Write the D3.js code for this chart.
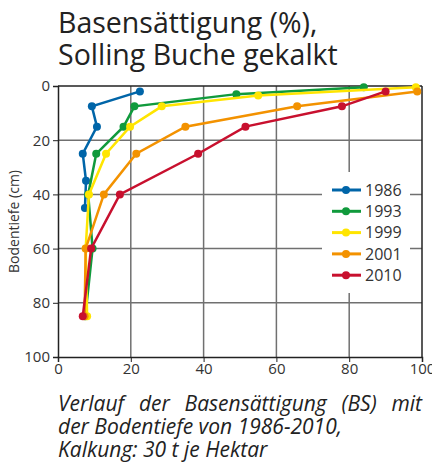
<!DOCTYPE html>
<html>
<head>
<meta charset="utf-8">
<script src="https://cdn.jsdelivr.net/npm/d3@7"></script>
<style>
  body { margin: 0; background: #fff; }
  svg { display: block; font-family: 'Open Sans', sans-serif; }
</style>
</head>
<body>
<div id="chart"></div>
<script>
// Data: Basensättigung (%) per depth (cm)
const years = ['1986', '1993', '1999', '2001', '2010'];
const colors = ['#0065a8', '#109a3c', '#ffe500', '#f39200', '#c8102e'];

const bs1986 = [22.5, 9.3, 10.7, 6.8, 7.7, 7.4];
const depth1986 = [2, 7.5, 15, 25, 35, 45];
const bs1993 = [84, 49, 21, 18, 10.5, 8.3, 9.5, 7.5];
const depth1993 = [0.5, 3, 7.5, 15, 25, 40, 60, 85];
const bs1999 = [98.3, 55, 28.5, 19.8, 13.2, 8.5, 7.6, 8];
const depth1999 = [0.5, 3.5, 7.5, 15, 25, 40, 60, 85];
const bs2001 = [98.7, 65.7, 35, 21.5, 12.6, 7.6, 7.3];
const depth2001 = [2, 7.5, 15, 25, 40, 60, 85];
const bs2010 = [90, 78, 51.5, 38.5, 17, 9.1, 6.8];
const depth2010 = [2, 7.5, 15, 25, 40, 60, 85];

const xTicks = [0, 20, 40, 60, 80, 100];
const yTicks = [0, 20, 40, 60, 80, 100];

const series = [
  [bs1986, depth1986], [bs1993, depth1993], [bs1999, depth1999],
  [bs2001, depth2001], [bs2010, depth2010]
].map((s, i) => ({
  year: years[i], color: colors[i],
  pts: s[0].map((v, j) => ({ bs: v, depth: s[1][j] }))
}));

const width = 432, height = 464;
const m = { left: 58, right: 10, top: 86, bottom: 107 };

const svg = d3.select('#chart').append('svg')
  .attr('width', width).attr('height', height);

const x = d3.scaleLinear().domain([0, 100]).range([m.left, width - m.right]);
const y = d3.scaleLinear().domain([0, 100]).range([m.top, height - m.bottom]);

// Title
svg.append('text')
  .attr('x', 58).attr('y', 33)
  .style('font-size', '28.5px').style('fill', '#222')
  .text('Basensättigung (%),');
svg.append('text')
  .attr('x', 58).attr('y', 65)
  .style('font-size', '28.5px').style('fill', '#222')
  .text('Solling Buche gekalkt');

// Grid
const grid = svg.append('g');
grid.selectAll('.vg').data(xTicks.slice(1, -1)).enter().append('line')
  .attr('x1', d => x(d)).attr('x2', d => x(d))
  .attr('y1', y(0)).attr('y2', y(100))
  .style('stroke', '#707070').style('stroke-width', 1.5);
grid.selectAll('.hg').data(yTicks.slice(1, -1)).enter().append('line')
  .attr('x1', x(0)).attr('x2', x(100))
  .attr('y1', d => y(d)).attr('y2', d => y(d))
  .style('stroke', '#707070').style('stroke-width', 1.5);

// Frame top and right
svg.append('line').attr('x1', x(0)).attr('x2', x(100)).attr('y1', y(0)).attr('y2', y(0))
  .style('stroke', '#222').style('stroke-width', 1.5);
svg.append('line').attr('x1', x(100)).attr('x2', x(100)).attr('y1', y(0)).attr('y2', y(100))
  .style('stroke', '#222').style('stroke-width', 1.5);

// Axes
const yAxis = svg.append('g')
  .attr('transform', 'translate(' + x(0) + ',0)')
  .call(d3.axisLeft(y).tickValues(yTicks).tickSize(5).tickPadding(3));
const xAxis = svg.append('g')
  .attr('transform', 'translate(0,' + y(100) + ')')
  .call(d3.axisBottom(x).tickValues(xTicks).tickSize(5).tickPadding(1));
[xAxis, yAxis].forEach(a => {
  a.select('.domain').style('stroke', '#222').style('stroke-width', 1.5);
  a.selectAll('.tick line').style('stroke', '#222');
  a.selectAll('.tick text').style('font-size', '15px').style('fill', '#333')
    .style('font-family', "'Open Sans', sans-serif");
});

svg.append('text')
  .attr('transform', 'translate(19,' + y(50) + ') rotate(-90)')
  .attr('text-anchor', 'middle')
  .style('font-size', '14px').style('fill', '#333')
  .text('Bodentiefe (cm)');

// Lines
const line = d3.line().x(d => x(d.bs)).y(d => y(d.depth));
const sg = svg.append('g');
series.forEach(s => {
  sg.append('path').datum(s.pts)
    .attr('d', line)
    .style('fill', 'none').style('stroke', s.color).style('stroke-width', 2.5);
  sg.selectAll(null).data(s.pts).enter().append('circle')
    .attr('cx', d => x(d.bs)).attr('cy', d => y(d.depth)).attr('r', 4)
    .style('fill', s.color);
});

// Legend
const lg = svg.append('g');
lg.append('rect').attr('x', 322).attr('y', 172).attr('width', 88).attr('height', 121)
  .style('fill', '#fff');
series.forEach((s, i) => {
  const ly = 190 + i * 21.3;
  lg.append('line').attr('x1', 332).attr('x2', 361).attr('y1', ly).attr('y2', ly)
    .style('stroke', s.color).style('stroke-width', 3);
  lg.append('circle').attr('cx', 346).attr('cy', ly).attr('r', 4).style('fill', s.color);
  lg.append('text').attr('x', 365).attr('y', ly).attr('dy', '0.35em')
    .style('font-size', '16px').style('fill', '#333').text(s.year);
});

// Caption (first line justified via word spacing)
const cap = svg.append('g').style('font-style', 'italic').style('font-size', '21px').style('fill', '#222');
const first = cap.append('text').attr('x', 58).attr('y', 411)
  .text('Verlauf der Basensättigung (BS) mit');
const extra = (364 - first.node().getComputedTextLength()) / 4;
if (extra > 0) first.style('word-spacing', extra + 'px');
cap.append('text').attr('x', 58).attr('y', 434).text('der Bodentiefe von 1986-2010,');
cap.append('text').attr('x', 58).attr('y', 457).text('Kalkung: 30 t je Hektar');
</script>
</body>
</html>
